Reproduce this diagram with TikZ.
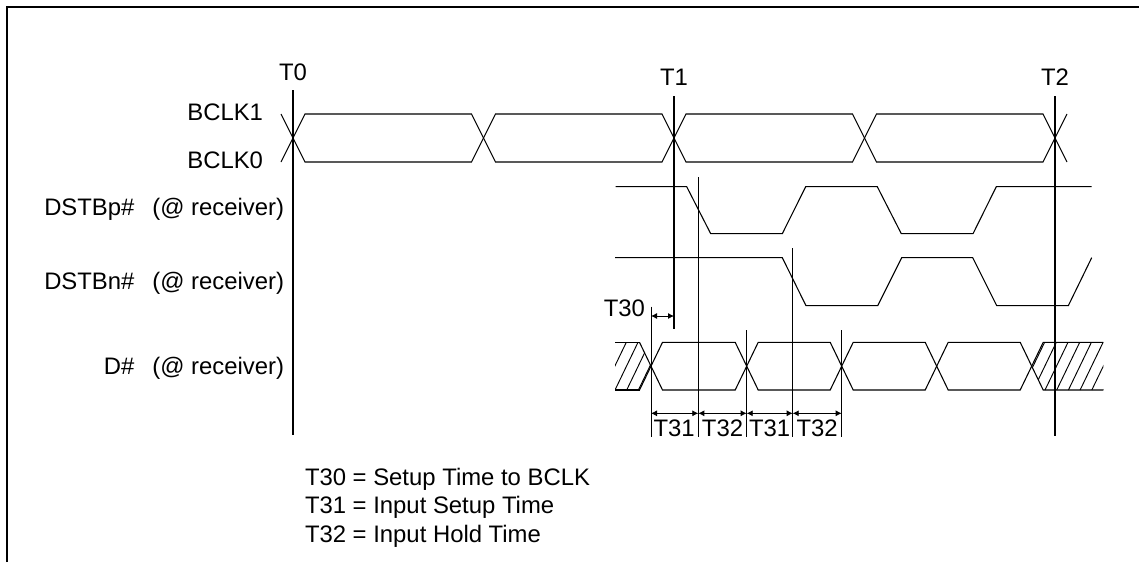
\documentclass[tikz,border=0pt]{standalone}
\usepackage{fontspec}
\setmainfont{Liberation Sans}
\usetikzlibrary{arrows.meta}
\begin{document}
\begin{tikzpicture}[x=0.75pt,y=-0.75pt,
  sig/.style={line width=0.8pt, line join=miter},
  bar/.style={line width=1.6pt},
  frameline/.style={line width=1.6pt},
  meas/.style={line width=0.6pt},
  hatch/.style={line width=0.7pt},
  dim/.style={line width=0.6pt,{Latex[length=4.5pt,width=4.5pt]}-{Latex[length=4.5pt,width=4.5pt]}},
  lbl/.style={font=\fontsize{17.9}{21}\selectfont, inner sep=0pt, outer sep=0pt},
]
\useasboundingbox (0,0) rectangle (1139,562);

% frame
\draw[frameline] (7,562) -- (7,7) -- (1139,7);

% time markers
\coordinate (t0a) at (293,90);  \coordinate (t0b) at (293,435);
\coordinate (t1a) at (674,96);  \coordinate (t1b) at (674,329);
\coordinate (t2a) at (1055,96); \coordinate (t2b) at (1055,436);
\node[lbl, anchor=base] (T0) at (293,80) {T0};
\node[lbl, anchor=base] (T1) at (674,85) {T1};
\node[lbl, anchor=base] (T2) at (1055,85) {T2};

% signal labels
\node[lbl, anchor=base east] (lb1) at (263,120.5) {BCLK1};
\node[lbl, anchor=base east] (lb0) at (263,168.5) {BCLK0};
\node[lbl, anchor=base east] (lp) at (284,215.5) {DSTBp\#\hspace{0.75em}(@ receiver)};
\node[lbl, anchor=base east] (ln) at (284,289.5) {DSTBn\#\hspace{0.75em}(@ receiver)};
\node[lbl, anchor=base east] (ld) at (284,374) {D\#\hspace{0.75em}(@ receiver)};

% BCLK
\draw[sig] (281,114) -- (305,162) -- (471.5,162) -- (495.5,114) -- (662,114) -- (686,162)
  -- (852.5,162) -- (876.5,114) -- (1043,114) -- (1067,162);
\draw[sig] (281,162) -- (305,114) -- (471.5,114) -- (495.5,162) -- (662,162) -- (686,114)
  -- (852.5,114) -- (876.5,162) -- (1043,162) -- (1067,114);

% DSTBp#
\draw[sig] (615.7,186.7) -- (686.7,186.7) -- (710.7,233.7) -- (782.3,233.7) -- (805.7,186.7)
  -- (877.3,186.7) -- (901.3,233.7) -- (973,233.7) -- (996.3,186.7) -- (1091.7,186.7);

% DSTBn#
\draw[sig] (615,257.7) -- (782.3,257.7) -- (806,305.7) -- (877.7,305.7) -- (901.7,257.7)
  -- (972.7,257.7) -- (996.7,305.7) -- (1068.3,305.7) -- (1091.7,257.7);

% D#
\draw[sig] (615,342.3) -- (639.5,342.3);
\draw[sig] (615,390) -- (639.5,390);
\draw[sig] (639.5,342.3) -- (662.5,390) -- (735.2,390) -- (758.2,342.3) -- (830.2,342.3)
  -- (853.2,390) -- (925.2,390) -- (948.2,342.3) -- (1020.2,342.3) -- (1043.2,390) -- (1103.3,390);
\draw[sig] (639.5,390) -- (662.5,342.3) -- (735.2,342.3) -- (758.2,390) -- (830.2,390)
  -- (853.2,342.3) -- (925.2,342.3) -- (948.2,390) -- (1020.2,390) -- (1043.2,342.3) -- (1103.3,342.3);

% hatching
\begin{scope}
  \clip (615,342.3) -- (639.5,342.3) -- (651,366) -- (639.5,390) -- (615,390) -- cycle;
  \foreach \k in {0,...,4}{
    \draw[hatch] ({603.3+11.7*\k},390) -- ({626.3+11.7*\k},342.3);
  }
\end{scope}
\begin{scope}
  \clip (1031.7,366) -- (1043.2,342.3) -- (1103.3,342.3) -- (1103.3,390) -- (1043.2,390) -- cycle;
  \foreach \k in {-2,...,5}{
    \draw[hatch] ({1045+11.7*\k},390) -- ({1068+11.7*\k},342.3);
  }
\end{scope}

% time marker lines (on top)
\draw[bar] (t0a) -- (t0b);
\draw[bar] (t1a) -- (t1b);
\draw[bar] (t2a) -- (t2b);

% measurement verticals
\coordinate (m0a) at (651,306.7);   \coordinate (m0b) at (651,437);
\coordinate (m1a) at (698.3,177);   \coordinate (m1b) at (698.3,437);
\coordinate (m2a) at (746.7,330);   \coordinate (m2b) at (746.7,437);
\coordinate (m3a) at (792.7,248);   \coordinate (m3b) at (792.7,437);
\coordinate (m4a) at (841.7,330);   \coordinate (m4b) at (841.7,437);
\foreach \m in {m0,m1,m2,m3,m4}{ \draw[meas] (\m a) -- (\m b); }

% dimension arrows
\coordinate (d0) at (651,413.3);
\coordinate (d1) at (698.3,413.3);
\coordinate (d2) at (746.7,413.3);
\coordinate (d3) at (792.7,413.3);
\coordinate (d4) at (841.7,413.3);
\draw[dim] (d0) -- (d1);
\draw[dim] (d1) -- (d2);
\draw[dim] (d2) -- (d3);
\draw[dim] (d3) -- (d4);
\coordinate (s0) at (651,316);
\coordinate (s1) at (674,316);
\draw[dim] (s0) -- (s1);

\node[lbl, anchor=base east] (T30) at (645,316) {T30};
\node[lbl, anchor=base] (la) at (674.2,436.7) {T31};
\node[lbl, anchor=base] (lb) at (722.5,436.7) {T32};
\node[lbl, anchor=base] (lc) at (769.7,436.7) {T31};
\node[lbl, anchor=base] (ldd) at (817.2,436.7) {T32};

% legend
\node[lbl, anchor=base west] (g1) at (305,485) {T30 = Setup Time to BCLK};
\node[lbl, anchor=base west] (g2) at (305,513.5) {T31 = Input Setup Time};
\node[lbl, anchor=base west] (g3) at (305,542) {T32 = Input Hold Time};
\end{tikzpicture}
\end{document}
